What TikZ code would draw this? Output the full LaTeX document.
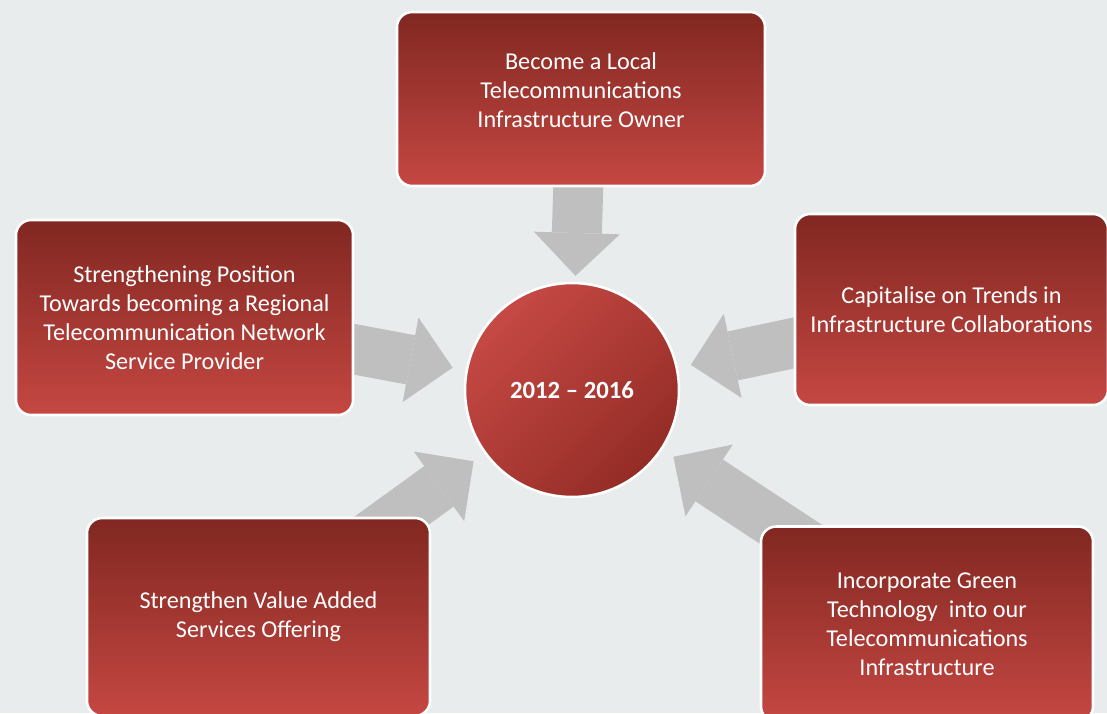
\documentclass[tikz,border=0pt]{standalone}
\usepackage{fontspec}
\setmainfont{Carlito}
\usepackage{xcolor}
\usetikzlibrary{shapes.geometric, positioning, arrows.meta}

\definecolor{pagegray}{RGB}{232,236,236}
\definecolor{boxtop}{RGB}{129,39,33}
\definecolor{boxbottom}{RGB}{197,71,66}
\definecolor{hublight}{RGB}{198,73,68}
\definecolor{hubdark}{RGB}{148,44,38}
\definecolor{arrowgray}{RGB}{191,191,191}

\pgfdeclarelayer{back}
\pgfsetlayers{back,main}

\begin{document}
\begin{tikzpicture}[
        goal/.style={draw=white, line width=1.8pt, rectangle, rounded corners=0.38cm, top color=boxtop, bottom color=boxbottom, inner sep=0pt, align=center, text=white, font=\fontsize{17.2}{20.6}\selectfont},
        hub/.style={draw=white, line width=1.8pt, circle, minimum size=5.35cm, inner sep=0pt, top color=hublight, bottom color=hubdark, shading angle=45, text=white, font=\fontsize{17.6}{21}\selectfont\bfseries},
        feed/.style={draw=arrowgray, line width=1.25cm, -{Triangle[length=1.07cm, width=2.15cm, line width=0pt]}, shorten >=0.33cm}
    ]
        \useasboundingbox (0,0) rectangle (27.675,-17.825);

        % Nodes
        \node[hub] (period) at (14.3, -9.75) {2012 -- 2016};
        \node[goal, minimum width=9.2cm, minimum height=4.35cm, text depth=0.45cm] (owner) at (14.525, -2.475) {Become a Local\\Telecommunications\\Infrastructure Owner};
        \node[goal, minimum width=8.425cm, minimum height=4.875cm] (regional) at (4.6125, -7.9375) {Strengthening Position\\Towards becoming a Regional\\Telecommunication Network\\Service Provider};
        \node[goal, minimum width=7.825cm, minimum height=4.775cm] (trends) at (23.7875, -7.7375) {Capitalise on Trends in\\Infrastructure Collaborations};
        \node[goal, minimum width=8.575cm, minimum height=4.95cm] (vas) at (6.4625, -15.425) {Strengthen Value Added\\Services Offering};
        \node[goal, minimum width=8.3cm, minimum height=4.875cm] (green) at (23.175, -15.6) {Incorporate Green\\Technology\ \ into our\\Telecommunications\\Infrastructure};

        % Edges
        \begin{pgfonlayer}{back}
            \fill[pagegray] (0,0) rectangle (27.675,-17.825);
            \draw[feed, shorten >=0.15cm] (owner.center) -- (period);
            \draw[feed] (regional.center) -- (period);
            \draw[feed] (trends.center) -- (period);
            \draw[feed] (vas.center) -- (period);
            \draw[feed] (green.center) -- (period);
        \end{pgfonlayer}
\end{tikzpicture}
\end{document}
